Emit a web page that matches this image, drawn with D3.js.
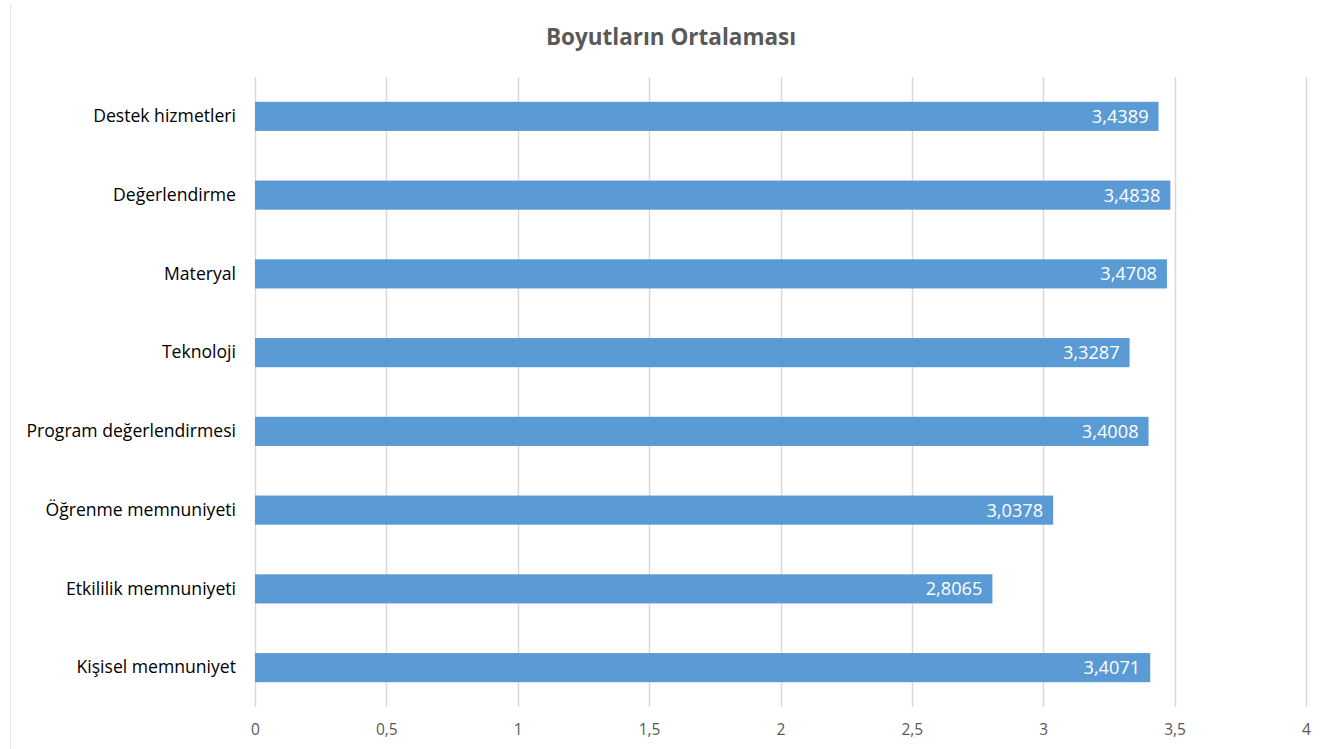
<!DOCTYPE html>
<html lang="tr">
<head>
<meta charset="UTF-8">
<script src="https://d3js.org/d3.v7.min.js"></script>
<title>Boyutların Ortalaması</title>
<style>
  body { margin: 0; background: #fff; }
  text { font-family: "Open Sans", "Noto Sans", sans-serif; }
</style>
</head>
<body>
<div id="vis"></div>
<script>
    // data, top to bottom as shown
    var categories = ["Destek hizmetleri", "Değerlendirme", "Materyal", "Teknoloji",
                      "Program değerlendirmesi", "Öğrenme memnuniyeti",
                      "Etkililik memnuniyeti", "Kişisel memnuniyet"],
        values = [3.4389, 3.4838, 3.4708, 3.3287, 3.4008, 3.0378, 2.8065, 3.4071],
        ticks = [0, 0.5, 1, 1.5, 2, 2.5, 3, 3.5, 4];

    var width = 1327, height = 749,
        plotLeft = 255, plotRight = 1306, plotTop = 77, plotBottom = 707,
        barColor = "#5B9BD5";

    var comma = function(v){ return String(v).replace(".", ","); };

    var svg = d3.select("#vis").append("svg")
        .attr("width", width).attr("height", height);

    // faint chart border (only the left edge is visible)
    svg.append("line")
        .attr("x1", 10.5).attr("x2", 10.5).attr("y1", 4).attr("y2", height)
        .style("stroke", "#e6e6e6");

    var x = d3.scaleLinear().domain([0, 4]).range([plotLeft, plotRight]),
        y = d3.scaleBand().domain(categories).range([plotTop, plotBottom]).paddingInner(0.63).paddingOuter(0.315);

    svg.append("text")
        .attr("x", 671).attr("y", 45)
        .attr("text-anchor", "middle")
        .style("font-size", "22.5px").style("font-weight", "bold").style("fill", "#595959")
        .text("Boyutların Ortalaması");

    // gridlines
    svg.append("g").selectAll("line").data(ticks).enter().append("line")
        .attr("x1", function(d){ return Math.round(x(d)) + 0.5; })
        .attr("x2", function(d){ return Math.round(x(d)) + 0.5; })
        .attr("y1", plotTop).attr("y2", plotBottom)
        .style("stroke", "#d9d9d9").style("stroke-width", 1.5);

    // x axis labels
    var xAxis = d3.axisBottom(x).tickValues(ticks).tickSize(0).tickPadding(17).tickFormat(comma);
    var gx = svg.append("g").attr("transform", "translate(0," + plotBottom + ")").call(xAxis);
    gx.select(".domain").remove();
    gx.selectAll("text").style("font-size", "15.5px").style("fill", "#595959")
        .style("font-family", "'Open Sans', 'Noto Sans', sans-serif");

    // y axis labels
    var yAxis = d3.axisLeft(y).tickSize(0).tickPadding(19);
    var gy = svg.append("g").attr("transform", "translate(" + plotLeft + ",0)").call(yAxis);
    gy.select(".domain").remove();
    gy.selectAll("text").style("font-size", "17.6px").style("fill", "#000")
        .style("font-family", "'Open Sans', 'Noto Sans', sans-serif");

    // bars
    var rows = svg.append("g").selectAll("g").data(categories).enter().append("g");

    rows.append("rect")
        .attr("x", x(0))
        .attr("y", function(d){ return y(d); })
        .attr("width", function(d, i){ return x(values[i]) - x(0); })
        .attr("height", y.bandwidth())
        .style("fill", barColor);

    rows.append("text")
        .attr("x", function(d, i){ return x(values[i]) - 10; })
        .attr("y", function(d){ return y(d) + y.bandwidth() / 2; })
        .attr("dy", "0.36em")
        .attr("text-anchor", "end")
        .style("font-size", "18.2px").style("fill", "#fff")
        .text(function(d, i){ return comma(values[i].toFixed(4)); });
</script>
</body>
</html>
